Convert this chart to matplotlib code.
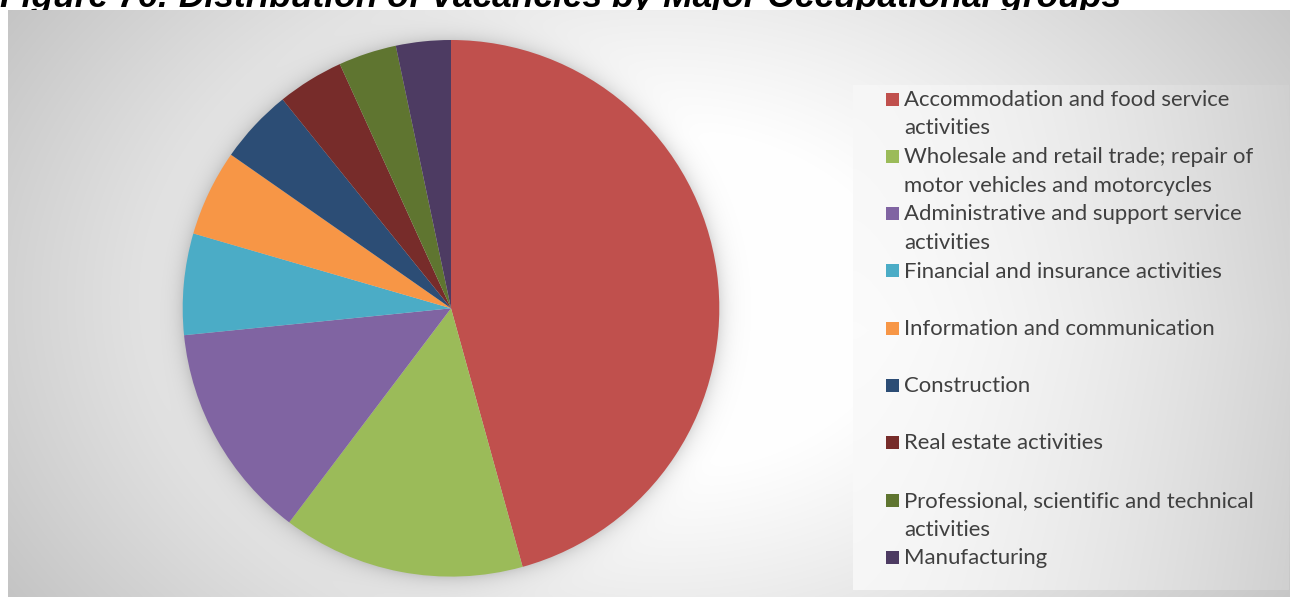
import numpy as np
import matplotlib
matplotlib.use("Agg")
import matplotlib.pyplot as plt
from matplotlib.patches import Rectangle
from matplotlib.transforms import Bbox, TransformedBbox

# ---------------- data ----------------
title = "Figure 76: Distribution of Vacancies by Major Occupational groups"
categories = [
    "Accommodation and food service\nactivities",
    "Wholesale and retail trade; repair of\nmotor vehicles and motorcycles",
    "Administrative and support service\nactivities",
    "Financial and insurance activities",
    "Information and communication",
    "Construction",
    "Real estate activities",
    "Professional, scientific and technical\nactivities",
    "Manufacturing",
]
shares = [45.7, 14.6, 13.1, 6.1, 5.2, 4.5, 4.0, 3.5, 3.3]
colors = ["#C0504D", "#9BBB59", "#8064A2", "#4BACC6", "#F79646",
          "#2C4D75", "#772C2A", "#5F7530", "#4D3B62"]

# ---------------- figure ----------------
W, H = 1293, 597
fig = plt.figure(figsize=(W / 100, H / 100), dpi=100)
fig.patch.set_facecolor("white")

def fx(px):
    return px / W

def fy(py_top):
    return 1 - py_top / H

# background gradient (chart area + pie shadow + legend panel)
yy, xx = np.mgrid[0:H, 0:W].astype(float)
cx, cy = 660.0, 300.0
d = np.sqrt((xx - cx) ** 2 + (1.4 * (yy - cy)) ** 2)
val = 1 - 0.23 * np.clip((d - 230) / 540, 0, 1) ** 1.1
# pie shadow
pcx, pcy, R = 451.0, 308.3, 268.3
dp = np.sqrt((xx - pcx) ** 2 + (yy - pcy) ** 2)
shadow = 0.13 * np.exp(-np.clip(dp - R, 0, None) / 9.0)
val = val - shadow
# legend panel
lx0, lx1, ly0, ly1 = 853, 1289, 85, 590
inpanel = (xx >= lx0) & (xx < lx1) & (yy >= ly0) & (yy < ly1)
pv = 0.985 - 0.15 * ((xx - lx0) / (lx1 - lx0)) ** 1.6 - 0.02 * np.abs((yy - 330) / 260)
val = np.where(inpanel, pv, val)
frame = (xx >= 8) & (xx < 1290) & (yy >= 10)
val = np.where(frame, val, 1.0)
img = np.dstack([val, val, val])

bg = fig.add_axes([0, 0, 1, 1], zorder=1)
bg.imshow(img, extent=(0, W, H, 0), interpolation="bilinear", aspect="auto")
bg.set_xlim(0, W)
bg.set_ylim(H, 0)
bg.axis("off")

# title (only its lower part shows above the chart frame)
t = fig.text(0.0, fy(7.5), title, fontsize=25.5, fontweight="bold", fontstyle="italic",
             family="Liberation Sans", ha="left", va="baseline", color="black", zorder=2)
t.set_clip_box(TransformedBbox(Bbox([[0, fy(10)], [1, 1]]), fig.transFigure))
t.set_clip_on(True)

# pie
ax = fig.add_axes([fx(pcx - R), fy(pcy + R), fx(2 * R), (2 * R) / H], zorder=3)
ax.pie(shares, colors=colors, startangle=90, counterclock=False, radius=1,
       wedgeprops=dict(linewidth=0))
ax.set_xlim(-1, 1)
ax.set_ylim(-1, 1)
ax.set_aspect("auto")
ax.axis("off")

# legend (manual, fixed spacing like the original)
lax = fig.add_axes([0, 0, 1, 1], zorder=4)
lax.set_xlim(0, W)
lax.set_ylim(H, 0)
lax.axis("off")
y0, step, lstep = 105.7, 57.3, 28.7
for i, (lab, col) in enumerate(zip(categories, colors)):
    base = y0 + step * i
    lax.add_patch(Rectangle((885.5, base - 13.2), 13, 13, facecolor=col, edgecolor="none"))
    for j, line in enumerate(lab.split("\n")):
        lax.text(904, base + j * lstep, line, fontsize=15.9, family="Lato",
                 color="#404040", ha="left", va="baseline")

fig.savefig("out.png", dpi=100, facecolor="white")
